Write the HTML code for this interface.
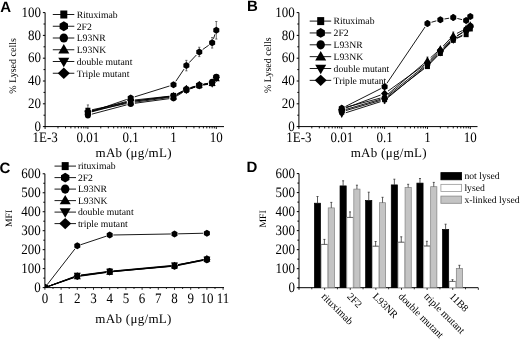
<!DOCTYPE html>
<html><head><meta charset="utf-8"><style>
html,body{margin:0;padding:0;background:#fff;width:520px;height:340px;overflow:hidden}
svg{display:block;filter:blur(0.3px)}
text{fill:#000;text-rendering:geometricPrecision}
</style></head><body>
<svg width="520" height="340" viewBox="0 0 520 340">
<rect width="520" height="340" fill="#fff"/>
<line x1="45.1" y1="12.6" x2="45.1" y2="127.1" stroke="#000" stroke-width="1" />
<line x1="44.6" y1="126.6" x2="224" y2="126.6" stroke="#000" stroke-width="1" />
<line x1="42.9" y1="126.6" x2="45.1" y2="126.6" stroke="#000" stroke-width="1" />
<text x="0" y="0" font-size="13" text-anchor="end" font-family='"Liberation Serif", serif' transform="translate(41 130.8) scale(1 1.11)">0</text>
<line x1="43.5" y1="115.2" x2="45.1" y2="115.2" stroke="#000" stroke-width="1" />
<line x1="42.9" y1="103.8" x2="45.1" y2="103.8" stroke="#000" stroke-width="1" />
<text x="0" y="0" font-size="13" text-anchor="end" font-family='"Liberation Serif", serif' transform="translate(41 108) scale(1 1.11)">20</text>
<line x1="43.5" y1="92.4" x2="45.1" y2="92.4" stroke="#000" stroke-width="1" />
<line x1="42.9" y1="81" x2="45.1" y2="81" stroke="#000" stroke-width="1" />
<text x="0" y="0" font-size="13" text-anchor="end" font-family='"Liberation Serif", serif' transform="translate(41 85.2) scale(1 1.11)">40</text>
<line x1="43.5" y1="69.6" x2="45.1" y2="69.6" stroke="#000" stroke-width="1" />
<line x1="42.9" y1="58.2" x2="45.1" y2="58.2" stroke="#000" stroke-width="1" />
<text x="0" y="0" font-size="13" text-anchor="end" font-family='"Liberation Serif", serif' transform="translate(41 62.4) scale(1 1.11)">60</text>
<line x1="43.5" y1="46.8" x2="45.1" y2="46.8" stroke="#000" stroke-width="1" />
<line x1="42.9" y1="35.4" x2="45.1" y2="35.4" stroke="#000" stroke-width="1" />
<text x="0" y="0" font-size="13" text-anchor="end" font-family='"Liberation Serif", serif' transform="translate(41 39.6) scale(1 1.11)">80</text>
<line x1="43.5" y1="24" x2="45.1" y2="24" stroke="#000" stroke-width="1" />
<line x1="42.9" y1="12.6" x2="45.1" y2="12.6" stroke="#000" stroke-width="1" />
<text x="0" y="0" font-size="13" text-anchor="end" font-family='"Liberation Serif", serif' transform="translate(41 16.8) scale(1 1.11)">100</text>
<line x1="45.1" y1="126.6" x2="45.1" y2="129" stroke="#000" stroke-width="0.9" />
<line x1="57.98" y1="126.6" x2="57.98" y2="128.4" stroke="#000" stroke-width="0.9" />
<line x1="65.52" y1="126.6" x2="65.52" y2="128.4" stroke="#000" stroke-width="0.9" />
<line x1="70.87" y1="126.6" x2="70.87" y2="128.4" stroke="#000" stroke-width="0.9" />
<line x1="75.02" y1="126.6" x2="75.02" y2="128.4" stroke="#000" stroke-width="0.9" />
<line x1="78.4" y1="126.6" x2="78.4" y2="128.4" stroke="#000" stroke-width="0.9" />
<line x1="81.27" y1="126.6" x2="81.27" y2="128.4" stroke="#000" stroke-width="0.9" />
<line x1="83.75" y1="126.6" x2="83.75" y2="128.4" stroke="#000" stroke-width="0.9" />
<line x1="85.94" y1="126.6" x2="85.94" y2="128.4" stroke="#000" stroke-width="0.9" />
<line x1="87.9" y1="126.6" x2="87.9" y2="129" stroke="#000" stroke-width="0.9" />
<line x1="100.78" y1="126.6" x2="100.78" y2="128.4" stroke="#000" stroke-width="0.9" />
<line x1="108.32" y1="126.6" x2="108.32" y2="128.4" stroke="#000" stroke-width="0.9" />
<line x1="113.67" y1="126.6" x2="113.67" y2="128.4" stroke="#000" stroke-width="0.9" />
<line x1="117.82" y1="126.6" x2="117.82" y2="128.4" stroke="#000" stroke-width="0.9" />
<line x1="121.2" y1="126.6" x2="121.2" y2="128.4" stroke="#000" stroke-width="0.9" />
<line x1="124.07" y1="126.6" x2="124.07" y2="128.4" stroke="#000" stroke-width="0.9" />
<line x1="126.55" y1="126.6" x2="126.55" y2="128.4" stroke="#000" stroke-width="0.9" />
<line x1="128.74" y1="126.6" x2="128.74" y2="128.4" stroke="#000" stroke-width="0.9" />
<line x1="130.7" y1="126.6" x2="130.7" y2="129" stroke="#000" stroke-width="0.9" />
<line x1="143.58" y1="126.6" x2="143.58" y2="128.4" stroke="#000" stroke-width="0.9" />
<line x1="151.12" y1="126.6" x2="151.12" y2="128.4" stroke="#000" stroke-width="0.9" />
<line x1="156.47" y1="126.6" x2="156.47" y2="128.4" stroke="#000" stroke-width="0.9" />
<line x1="160.62" y1="126.6" x2="160.62" y2="128.4" stroke="#000" stroke-width="0.9" />
<line x1="164" y1="126.6" x2="164" y2="128.4" stroke="#000" stroke-width="0.9" />
<line x1="166.87" y1="126.6" x2="166.87" y2="128.4" stroke="#000" stroke-width="0.9" />
<line x1="169.35" y1="126.6" x2="169.35" y2="128.4" stroke="#000" stroke-width="0.9" />
<line x1="171.54" y1="126.6" x2="171.54" y2="128.4" stroke="#000" stroke-width="0.9" />
<line x1="173.5" y1="126.6" x2="173.5" y2="129" stroke="#000" stroke-width="0.9" />
<line x1="186.38" y1="126.6" x2="186.38" y2="128.4" stroke="#000" stroke-width="0.9" />
<line x1="193.92" y1="126.6" x2="193.92" y2="128.4" stroke="#000" stroke-width="0.9" />
<line x1="199.27" y1="126.6" x2="199.27" y2="128.4" stroke="#000" stroke-width="0.9" />
<line x1="203.42" y1="126.6" x2="203.42" y2="128.4" stroke="#000" stroke-width="0.9" />
<line x1="206.8" y1="126.6" x2="206.8" y2="128.4" stroke="#000" stroke-width="0.9" />
<line x1="209.67" y1="126.6" x2="209.67" y2="128.4" stroke="#000" stroke-width="0.9" />
<line x1="212.15" y1="126.6" x2="212.15" y2="128.4" stroke="#000" stroke-width="0.9" />
<line x1="214.34" y1="126.6" x2="214.34" y2="128.4" stroke="#000" stroke-width="0.9" />
<line x1="216.3" y1="126.6" x2="216.3" y2="129" stroke="#000" stroke-width="0.9" />
<text x="0" y="0" font-size="13" text-anchor="middle" font-family='"Liberation Serif", serif' transform="translate(45.1 141.6) scale(1 1.11)">1E-3</text>
<text x="0" y="0" font-size="13" text-anchor="middle" font-family='"Liberation Serif", serif' transform="translate(87.9 141.6) scale(1 1.11)">0.01</text>
<text x="0" y="0" font-size="13" text-anchor="middle" font-family='"Liberation Serif", serif' transform="translate(130.7 141.6) scale(1 1.11)">0.1</text>
<text x="0" y="0" font-size="13" text-anchor="middle" font-family='"Liberation Serif", serif' transform="translate(173.5 141.6) scale(1 1.11)">1</text>
<text x="0" y="0" font-size="13" text-anchor="middle" font-family='"Liberation Serif", serif' transform="translate(216.3 141.6) scale(1 1.11)">10</text>
<text x="133.7" y="157.4" font-size="13" text-anchor="middle" font-family='"Liberation Serif", serif' font-weight="normal" letter-spacing="0.3">mAb (&#956;g/mL)</text>
<text x="13.5" y="65.9" font-size="10" text-anchor="middle" font-family='"Liberation Serif", serif' font-weight="normal" transform="rotate(-90 13.5 65.9)" dominant-baseline="central">% Lysed cells</text>
<text x="0.3" y="11.6" font-size="15" text-anchor="start" font-family='"Liberation Sans", sans-serif' font-weight="bold" >A</text>
<line x1="92.01" y1="109.76" x2="126.59" y2="102.4" stroke="#000" stroke-width="0.9" />
<line x1="134.86" y1="100.97" x2="169.34" y2="96.37" stroke="#000" stroke-width="0.9" />
<line x1="177.28" y1="93.98" x2="182.61" y2="91.39" stroke="#000" stroke-width="0.9" />
<line x1="190.4" y1="88.31" x2="195.26" y2="86.8" stroke="#000" stroke-width="0.9" />
<line x1="203.4" y1="84.83" x2="208.02" y2="84.01" stroke="#000" stroke-width="0.9" />
<line x1="91.96" y1="114.12" x2="126.64" y2="104.88" stroke="#000" stroke-width="0.9" />
<line x1="134.86" y1="103.25" x2="169.34" y2="98.65" stroke="#000" stroke-width="0.9" />
<line x1="177.07" y1="95.89" x2="182.81" y2="92.33" stroke="#000" stroke-width="0.9" />
<line x1="190.34" y1="88.72" x2="195.31" y2="86.96" stroke="#000" stroke-width="0.9" />
<line x1="203.33" y1="84.48" x2="208.09" y2="83.22" stroke="#000" stroke-width="0.9" />
<line x1="92.01" y1="110.9" x2="126.59" y2="103.54" stroke="#000" stroke-width="0.9" />
<line x1="134.86" y1="102.11" x2="169.34" y2="97.51" stroke="#000" stroke-width="0.9" />
<line x1="177.07" y1="94.75" x2="182.81" y2="91.19" stroke="#000" stroke-width="0.9" />
<line x1="190.4" y1="87.74" x2="195.26" y2="86.23" stroke="#000" stroke-width="0.9" />
<line x1="203.43" y1="84.44" x2="207.99" y2="83.83" stroke="#000" stroke-width="0.9" />
<line x1="91.96" y1="111.84" x2="126.64" y2="102.6" stroke="#000" stroke-width="0.9" />
<line x1="134.87" y1="101.02" x2="169.33" y2="96.89" stroke="#000" stroke-width="0.9" />
<line x1="177.28" y1="94.55" x2="182.61" y2="91.96" stroke="#000" stroke-width="0.9" />
<line x1="190.34" y1="88.72" x2="195.31" y2="86.96" stroke="#000" stroke-width="0.9" />
<line x1="203.43" y1="85.01" x2="207.99" y2="84.4" stroke="#000" stroke-width="0.9" />
<line x1="91.96" y1="110.7" x2="126.64" y2="101.46" stroke="#000" stroke-width="0.9" />
<line x1="134.88" y1="99.94" x2="169.32" y2="96.26" stroke="#000" stroke-width="0.9" />
<line x1="177.21" y1="93.85" x2="182.67" y2="90.95" stroke="#000" stroke-width="0.9" />
<line x1="190.4" y1="87.74" x2="195.26" y2="86.23" stroke="#000" stroke-width="0.9" />
<line x1="203.4" y1="84.26" x2="208.02" y2="83.44" stroke="#000" stroke-width="0.9" />
<line x1="91.87" y1="111.55" x2="126.73" y2="99.47" stroke="#000" stroke-width="0.9" />
<line x1="134.71" y1="96.85" x2="169.49" y2="86.01" stroke="#000" stroke-width="0.9" />
<line x1="175.84" y1="81.28" x2="184.04" y2="69.09" stroke="#000" stroke-width="0.9" />
<line x1="189.26" y1="62.55" x2="196.39" y2="54.99" stroke="#000" stroke-width="0.9" />
<line x1="202.7" y1="49.5" x2="208.72" y2="45.24" stroke="#000" stroke-width="0.9" />
<line x1="213.47" y1="38.82" x2="214.98" y2="34.26" stroke="#000" stroke-width="0.9" />
<line x1="87.9" y1="104.94" x2="87.9" y2="116.34" stroke="#333" stroke-width="0.7" />
<line x1="86.8" y1="104.94" x2="89" y2="104.94" stroke="#333" stroke-width="0.7" />
<line x1="86.8" y1="116.34" x2="89" y2="116.34" stroke="#333" stroke-width="0.7" />
<rect x="85.4" y="107.74" width="5" height="5.8" fill="#000"/>
<rect x="128.2" y="98.62" width="5" height="5.8" fill="#000"/>
<rect x="171" y="92.92" width="5" height="5.8" fill="#000"/>
<rect x="183.88" y="86.65" width="5" height="5.8" fill="#000"/>
<rect x="196.77" y="82.66" width="5" height="5.8" fill="#000"/>
<rect x="209.65" y="80.38" width="5" height="5.8" fill="#000"/>
<rect x="213.8" y="74.68" width="5" height="5.8" fill="#000"/>
<ellipse cx="87.9" cy="115.2" rx="3" ry="3.3" fill="#000"/>
<ellipse cx="130.7" cy="103.8" rx="3" ry="3.3" fill="#000"/>
<ellipse cx="173.5" cy="98.1" rx="3" ry="3.3" fill="#000"/>
<ellipse cx="186.38" cy="90.12" rx="3" ry="3.3" fill="#000"/>
<ellipse cx="199.27" cy="85.56" rx="3" ry="3.3" fill="#000"/>
<ellipse cx="212.15" cy="82.14" rx="3" ry="3.3" fill="#000"/>
<ellipse cx="216.3" cy="77.01" rx="3" ry="3.3" fill="#000"/>
<polygon points="87.9,107.82 91.4,114.42 84.4,114.42" fill="#000"/>
<polygon points="130.7,98.7 134.2,105.3 127.2,105.3" fill="#000"/>
<polygon points="173.5,93 177,99.6 170,99.6" fill="#000"/>
<polygon points="186.38,85.02 189.88,91.62 182.88,91.62" fill="#000"/>
<polygon points="199.27,81.03 202.77,87.63 195.77,87.63" fill="#000"/>
<polygon points="212.15,79.32 215.65,85.92 208.65,85.92" fill="#000"/>
<polygon points="216.3,74.76 219.8,81.36 212.8,81.36" fill="#000"/>
<polygon points="87.9,116.88 91.4,110.28 84.4,110.28" fill="#000"/>
<polygon points="130.7,105.48 134.2,98.88 127.2,98.88" fill="#000"/>
<polygon points="173.5,100.35 177,93.75 170,93.75" fill="#000"/>
<polygon points="186.38,94.08 189.88,87.48 182.88,87.48" fill="#000"/>
<polygon points="199.27,89.52 202.77,82.92 195.77,82.92" fill="#000"/>
<polygon points="212.15,87.81 215.65,81.21 208.65,81.21" fill="#000"/>
<polygon points="216.3,82.11 219.8,75.51 212.8,75.51" fill="#000"/>
<polygon points="87.9,107.88 91.5,111.78 87.9,115.68 84.3,111.78" fill="#000"/>
<polygon points="130.7,96.48 134.3,100.38 130.7,104.28 127.1,100.38" fill="#000"/>
<polygon points="173.5,91.92 177.1,95.82 173.5,99.72 169.9,95.82" fill="#000"/>
<polygon points="186.38,85.08 189.98,88.98 186.38,92.88 182.78,88.98" fill="#000"/>
<polygon points="199.27,81.09 202.87,84.99 199.27,88.89 195.67,84.99" fill="#000"/>
<polygon points="212.15,78.81 215.75,82.71 212.15,86.61 208.55,82.71" fill="#000"/>
<polygon points="216.3,73.68 219.9,77.58 216.3,81.48 212.7,77.58" fill="#000"/>
<line x1="186.38" y1="60.37" x2="186.38" y2="70.85" stroke="#333" stroke-width="0.7" />
<line x1="185.28" y1="60.37" x2="187.48" y2="60.37" stroke="#333" stroke-width="0.7" />
<line x1="185.28" y1="70.85" x2="187.48" y2="70.85" stroke="#333" stroke-width="0.7" />
<line x1="199.27" y1="47.26" x2="199.27" y2="56.6" stroke="#333" stroke-width="0.7" />
<line x1="198.17" y1="47.26" x2="200.37" y2="47.26" stroke="#333" stroke-width="0.7" />
<line x1="198.17" y1="56.6" x2="200.37" y2="56.6" stroke="#333" stroke-width="0.7" />
<line x1="212.15" y1="37.57" x2="212.15" y2="48.05" stroke="#333" stroke-width="0.7" />
<line x1="211.05" y1="37.57" x2="213.25" y2="37.57" stroke="#333" stroke-width="0.7" />
<line x1="211.05" y1="48.05" x2="213.25" y2="48.05" stroke="#333" stroke-width="0.7" />
<line x1="216.3" y1="21.49" x2="216.3" y2="39.05" stroke="#333" stroke-width="0.7" />
<line x1="215.2" y1="21.49" x2="217.4" y2="21.49" stroke="#333" stroke-width="0.7" />
<line x1="215.2" y1="39.05" x2="217.4" y2="39.05" stroke="#333" stroke-width="0.7" />
<polygon points="87.9,109.42 90.9,111.17 90.9,114.67 87.9,116.42 84.9,114.67 84.9,111.17" fill="#000"/>
<polygon points="130.7,94.6 133.7,96.35 133.7,99.85 130.7,101.6 127.7,99.85 127.7,96.35" fill="#000"/>
<polygon points="173.5,81.26 176.5,83.01 176.5,86.51 173.5,88.26 170.5,86.51 170.5,83.01" fill="#000"/>
<polygon points="186.38,62.11 189.38,63.86 189.38,67.36 186.38,69.11 183.38,67.36 183.38,63.86" fill="#000"/>
<polygon points="199.27,48.43 202.27,50.18 202.27,53.68 199.27,55.43 196.27,53.68 196.27,50.18" fill="#000"/>
<polygon points="212.15,39.31 215.15,41.06 215.15,44.56 212.15,46.31 209.15,44.56 209.15,41.06" fill="#000"/>
<polygon points="216.3,26.77 219.3,28.52 219.3,32.02 216.3,33.77 213.3,32.02 213.3,28.52" fill="#000"/>
<line x1="52.8" y1="14.5" x2="74.3" y2="14.5" stroke="#000" stroke-width="0.9" />
<rect x="60.3" y="10.5" width="7" height="8" fill="#000"/>
<text x="76.7" y="17.8" font-size="9.7" text-anchor="start" font-family='"Liberation Serif", serif' font-weight="normal" >Rituximab</text>
<line x1="52.8" y1="26.25" x2="74.3" y2="26.25" stroke="#000" stroke-width="0.9" />
<polygon points="63.8,21.35 68,23.8 68,28.7 63.8,31.15 59.6,28.7 59.6,23.8" fill="#000"/>
<text x="76.7" y="29.55" font-size="9.7" text-anchor="start" font-family='"Liberation Serif", serif' font-weight="normal" >2F2</text>
<line x1="52.8" y1="38" x2="74.3" y2="38" stroke="#000" stroke-width="0.9" />
<ellipse cx="63.8" cy="38" rx="4.2" ry="4.6" fill="#000"/>
<text x="76.7" y="41.3" font-size="9.7" text-anchor="start" font-family='"Liberation Serif", serif' font-weight="normal" >L93NR</text>
<line x1="52.8" y1="49.75" x2="74.3" y2="49.75" stroke="#000" stroke-width="0.9" />
<polygon points="63.8,44.11 69.3,53.51 58.3,53.51" fill="#000"/>
<text x="76.7" y="53.05" font-size="9.7" text-anchor="start" font-family='"Liberation Serif", serif' font-weight="normal" >L93NK</text>
<line x1="52.8" y1="61.5" x2="74.3" y2="61.5" stroke="#000" stroke-width="0.9" />
<polygon points="63.8,67.14 69.3,57.74 58.3,57.74" fill="#000"/>
<text x="76.7" y="64.8" font-size="9.7" text-anchor="start" font-family='"Liberation Serif", serif' font-weight="normal" >double mutant</text>
<line x1="52.8" y1="73.25" x2="74.3" y2="73.25" stroke="#000" stroke-width="0.9" />
<polygon points="63.8,67.55 69.8,73.25 63.8,78.95 57.8,73.25" fill="#000"/>
<text x="76.7" y="76.55" font-size="9.7" text-anchor="start" font-family='"Liberation Serif", serif' font-weight="normal" >Triple mutant</text>
<line x1="298.9" y1="12.6" x2="298.9" y2="127.1" stroke="#000" stroke-width="1" />
<line x1="298.4" y1="126.6" x2="477.5" y2="126.6" stroke="#000" stroke-width="1" />
<line x1="296.7" y1="126.6" x2="298.9" y2="126.6" stroke="#000" stroke-width="1" />
<text x="0" y="0" font-size="13" text-anchor="end" font-family='"Liberation Serif", serif' transform="translate(294.8 130.8) scale(1 1.11)">0</text>
<line x1="297.3" y1="115.2" x2="298.9" y2="115.2" stroke="#000" stroke-width="1" />
<line x1="296.7" y1="103.8" x2="298.9" y2="103.8" stroke="#000" stroke-width="1" />
<text x="0" y="0" font-size="13" text-anchor="end" font-family='"Liberation Serif", serif' transform="translate(294.8 108) scale(1 1.11)">20</text>
<line x1="297.3" y1="92.4" x2="298.9" y2="92.4" stroke="#000" stroke-width="1" />
<line x1="296.7" y1="81" x2="298.9" y2="81" stroke="#000" stroke-width="1" />
<text x="0" y="0" font-size="13" text-anchor="end" font-family='"Liberation Serif", serif' transform="translate(294.8 85.2) scale(1 1.11)">40</text>
<line x1="297.3" y1="69.6" x2="298.9" y2="69.6" stroke="#000" stroke-width="1" />
<line x1="296.7" y1="58.2" x2="298.9" y2="58.2" stroke="#000" stroke-width="1" />
<text x="0" y="0" font-size="13" text-anchor="end" font-family='"Liberation Serif", serif' transform="translate(294.8 62.4) scale(1 1.11)">60</text>
<line x1="297.3" y1="46.8" x2="298.9" y2="46.8" stroke="#000" stroke-width="1" />
<line x1="296.7" y1="35.4" x2="298.9" y2="35.4" stroke="#000" stroke-width="1" />
<text x="0" y="0" font-size="13" text-anchor="end" font-family='"Liberation Serif", serif' transform="translate(294.8 39.6) scale(1 1.11)">80</text>
<line x1="297.3" y1="24" x2="298.9" y2="24" stroke="#000" stroke-width="1" />
<line x1="296.7" y1="12.6" x2="298.9" y2="12.6" stroke="#000" stroke-width="1" />
<text x="0" y="0" font-size="13" text-anchor="end" font-family='"Liberation Serif", serif' transform="translate(294.8 16.8) scale(1 1.11)">100</text>
<line x1="298.9" y1="126.6" x2="298.9" y2="129" stroke="#000" stroke-width="0.9" />
<line x1="311.8" y1="126.6" x2="311.8" y2="128.4" stroke="#000" stroke-width="0.9" />
<line x1="319.34" y1="126.6" x2="319.34" y2="128.4" stroke="#000" stroke-width="0.9" />
<line x1="324.7" y1="126.6" x2="324.7" y2="128.4" stroke="#000" stroke-width="0.9" />
<line x1="328.85" y1="126.6" x2="328.85" y2="128.4" stroke="#000" stroke-width="0.9" />
<line x1="332.24" y1="126.6" x2="332.24" y2="128.4" stroke="#000" stroke-width="0.9" />
<line x1="335.11" y1="126.6" x2="335.11" y2="128.4" stroke="#000" stroke-width="0.9" />
<line x1="337.6" y1="126.6" x2="337.6" y2="128.4" stroke="#000" stroke-width="0.9" />
<line x1="339.79" y1="126.6" x2="339.79" y2="128.4" stroke="#000" stroke-width="0.9" />
<line x1="341.75" y1="126.6" x2="341.75" y2="129" stroke="#000" stroke-width="0.9" />
<line x1="354.65" y1="126.6" x2="354.65" y2="128.4" stroke="#000" stroke-width="0.9" />
<line x1="362.19" y1="126.6" x2="362.19" y2="128.4" stroke="#000" stroke-width="0.9" />
<line x1="367.55" y1="126.6" x2="367.55" y2="128.4" stroke="#000" stroke-width="0.9" />
<line x1="371.7" y1="126.6" x2="371.7" y2="128.4" stroke="#000" stroke-width="0.9" />
<line x1="375.09" y1="126.6" x2="375.09" y2="128.4" stroke="#000" stroke-width="0.9" />
<line x1="377.96" y1="126.6" x2="377.96" y2="128.4" stroke="#000" stroke-width="0.9" />
<line x1="380.45" y1="126.6" x2="380.45" y2="128.4" stroke="#000" stroke-width="0.9" />
<line x1="382.64" y1="126.6" x2="382.64" y2="128.4" stroke="#000" stroke-width="0.9" />
<line x1="384.6" y1="126.6" x2="384.6" y2="129" stroke="#000" stroke-width="0.9" />
<line x1="397.5" y1="126.6" x2="397.5" y2="128.4" stroke="#000" stroke-width="0.9" />
<line x1="405.04" y1="126.6" x2="405.04" y2="128.4" stroke="#000" stroke-width="0.9" />
<line x1="410.4" y1="126.6" x2="410.4" y2="128.4" stroke="#000" stroke-width="0.9" />
<line x1="414.55" y1="126.6" x2="414.55" y2="128.4" stroke="#000" stroke-width="0.9" />
<line x1="417.94" y1="126.6" x2="417.94" y2="128.4" stroke="#000" stroke-width="0.9" />
<line x1="420.81" y1="126.6" x2="420.81" y2="128.4" stroke="#000" stroke-width="0.9" />
<line x1="423.3" y1="126.6" x2="423.3" y2="128.4" stroke="#000" stroke-width="0.9" />
<line x1="425.49" y1="126.6" x2="425.49" y2="128.4" stroke="#000" stroke-width="0.9" />
<line x1="427.45" y1="126.6" x2="427.45" y2="129" stroke="#000" stroke-width="0.9" />
<line x1="440.35" y1="126.6" x2="440.35" y2="128.4" stroke="#000" stroke-width="0.9" />
<line x1="447.89" y1="126.6" x2="447.89" y2="128.4" stroke="#000" stroke-width="0.9" />
<line x1="453.25" y1="126.6" x2="453.25" y2="128.4" stroke="#000" stroke-width="0.9" />
<line x1="457.4" y1="126.6" x2="457.4" y2="128.4" stroke="#000" stroke-width="0.9" />
<line x1="460.79" y1="126.6" x2="460.79" y2="128.4" stroke="#000" stroke-width="0.9" />
<line x1="463.66" y1="126.6" x2="463.66" y2="128.4" stroke="#000" stroke-width="0.9" />
<line x1="466.15" y1="126.6" x2="466.15" y2="128.4" stroke="#000" stroke-width="0.9" />
<line x1="468.34" y1="126.6" x2="468.34" y2="128.4" stroke="#000" stroke-width="0.9" />
<line x1="470.3" y1="126.6" x2="470.3" y2="129" stroke="#000" stroke-width="0.9" />
<text x="0" y="0" font-size="13" text-anchor="middle" font-family='"Liberation Serif", serif' transform="translate(298.9 141.6) scale(1 1.11)">1E-3</text>
<text x="0" y="0" font-size="13" text-anchor="middle" font-family='"Liberation Serif", serif' transform="translate(341.75 141.6) scale(1 1.11)">0.01</text>
<text x="0" y="0" font-size="13" text-anchor="middle" font-family='"Liberation Serif", serif' transform="translate(384.6 141.6) scale(1 1.11)">0.1</text>
<text x="0" y="0" font-size="13" text-anchor="middle" font-family='"Liberation Serif", serif' transform="translate(427.45 141.6) scale(1 1.11)">1</text>
<text x="0" y="0" font-size="13" text-anchor="middle" font-family='"Liberation Serif", serif' transform="translate(470.3 141.6) scale(1 1.11)">10</text>
<text x="388.8" y="157.4" font-size="13" text-anchor="middle" font-family='"Liberation Serif", serif' font-weight="normal" letter-spacing="0.3">mAb (&#956;g/mL)</text>
<text x="268.2" y="65.2" font-size="10" text-anchor="middle" font-family='"Liberation Serif", serif' font-weight="normal" transform="rotate(-90 268.2 65.2)" dominant-baseline="central">% Lysed cells</text>
<text x="247.1" y="11.3" font-size="15" text-anchor="start" font-family='"Liberation Sans", sans-serif' font-weight="bold" >B</text>
<line x1="345.78" y1="110.6" x2="380.57" y2="100.42" stroke="#000" stroke-width="0.9" />
<line x1="387.93" y1="96.67" x2="424.12" y2="68.75" stroke="#000" stroke-width="0.9" />
<line x1="430.4" y1="63.19" x2="437.4" y2="56.06" stroke="#000" stroke-width="0.9" />
<line x1="443.29" y1="50.08" x2="450.3" y2="42.95" stroke="#000" stroke-width="0.9" />
<line x1="457.09" y1="38.26" x2="462.31" y2="35.96" stroke="#000" stroke-width="0.9" />
<line x1="345.78" y1="109.46" x2="380.57" y2="99.28" stroke="#000" stroke-width="0.9" />
<line x1="387.88" y1="95.48" x2="424.17" y2="66.52" stroke="#000" stroke-width="0.9" />
<line x1="430.46" y1="60.97" x2="437.34" y2="54.29" stroke="#000" stroke-width="0.9" />
<line x1="443.36" y1="48.43" x2="450.24" y2="41.75" stroke="#000" stroke-width="0.9" />
<line x1="456.68" y1="36.4" x2="462.72" y2="32.12" stroke="#000" stroke-width="0.9" />
<line x1="345.81" y1="107.28" x2="380.54" y2="98.04" stroke="#000" stroke-width="0.9" />
<line x1="387.8" y1="94.24" x2="424.25" y2="63.2" stroke="#000" stroke-width="0.9" />
<line x1="430.6" y1="57.7" x2="437.2" y2="51.86" stroke="#000" stroke-width="0.9" />
<line x1="443.23" y1="46.02" x2="450.37" y2="38.46" stroke="#000" stroke-width="0.9" />
<line x1="456.96" y1="33.43" x2="462.44" y2="30.53" stroke="#000" stroke-width="0.9" />
<line x1="345.75" y1="112.78" x2="380.6" y2="101.66" stroke="#000" stroke-width="0.9" />
<line x1="387.84" y1="97.71" x2="424.21" y2="67.71" stroke="#000" stroke-width="0.9" />
<line x1="430.46" y1="62.11" x2="437.34" y2="55.43" stroke="#000" stroke-width="0.9" />
<line x1="443.36" y1="49.57" x2="450.24" y2="42.89" stroke="#000" stroke-width="0.9" />
<line x1="456.96" y1="37.99" x2="462.44" y2="35.09" stroke="#000" stroke-width="0.9" />
<line x1="345.69" y1="108.03" x2="380.66" y2="95.01" stroke="#000" stroke-width="0.9" />
<line x1="388.01" y1="91.09" x2="424.04" y2="65.21" stroke="#000" stroke-width="0.9" />
<line x1="430.46" y1="59.83" x2="437.34" y2="53.15" stroke="#000" stroke-width="0.9" />
<line x1="443.36" y1="47.29" x2="450.24" y2="40.61" stroke="#000" stroke-width="0.9" />
<line x1="456.96" y1="35.71" x2="462.44" y2="32.81" stroke="#000" stroke-width="0.9" />
<line x1="345.5" y1="106.47" x2="380.85" y2="88.59" stroke="#000" stroke-width="0.9" />
<line x1="386.96" y1="83.22" x2="425.09" y2="26.91" stroke="#000" stroke-width="0.9" />
<line x1="431.48" y1="22.25" x2="436.32" y2="20.84" stroke="#000" stroke-width="0.9" />
<line x1="444.49" y1="18.97" x2="449.11" y2="18.2" stroke="#000" stroke-width="0.9" />
<line x1="457.33" y1="18.48" x2="462.06" y2="19.61" stroke="#000" stroke-width="0.9" />
<line x1="384.6" y1="95.25" x2="384.6" y2="103.23" stroke="#333" stroke-width="0.7" />
<line x1="383.5" y1="95.25" x2="385.7" y2="95.25" stroke="#333" stroke-width="0.7" />
<line x1="383.5" y1="103.23" x2="385.7" y2="103.23" stroke="#333" stroke-width="0.7" />
<rect x="339.25" y="108.88" width="5" height="5.8" fill="#000"/>
<rect x="382.1" y="96.34" width="5" height="5.8" fill="#000"/>
<rect x="424.95" y="63.28" width="5" height="5.8" fill="#000"/>
<rect x="437.85" y="50.17" width="5" height="5.8" fill="#000"/>
<rect x="450.75" y="37.06" width="5" height="5.8" fill="#000"/>
<rect x="463.65" y="31.36" width="5" height="5.8" fill="#000"/>
<rect x="467.8" y="25.66" width="5" height="5.8" fill="#000"/>
<ellipse cx="341.75" cy="110.64" rx="3" ry="3.3" fill="#000"/>
<ellipse cx="384.6" cy="98.1" rx="3" ry="3.3" fill="#000"/>
<ellipse cx="427.45" cy="63.9" rx="3" ry="3.3" fill="#000"/>
<ellipse cx="440.35" cy="51.36" rx="3" ry="3.3" fill="#000"/>
<ellipse cx="453.25" cy="38.82" rx="3" ry="3.3" fill="#000"/>
<ellipse cx="466.15" cy="29.7" rx="3" ry="3.3" fill="#000"/>
<ellipse cx="470.3" cy="26.28" rx="3" ry="3.3" fill="#000"/>
<line x1="341.75" y1="106.08" x2="341.75" y2="110.64" stroke="#333" stroke-width="0.7" />
<line x1="340.65" y1="106.08" x2="342.85" y2="106.08" stroke="#333" stroke-width="0.7" />
<line x1="340.65" y1="110.64" x2="342.85" y2="110.64" stroke="#333" stroke-width="0.7" />
<line x1="427.45" y1="57.06" x2="427.45" y2="63.9" stroke="#333" stroke-width="0.7" />
<line x1="426.35" y1="57.06" x2="428.55" y2="57.06" stroke="#333" stroke-width="0.7" />
<line x1="426.35" y1="63.9" x2="428.55" y2="63.9" stroke="#333" stroke-width="0.7" />
<line x1="453.25" y1="31.98" x2="453.25" y2="38.82" stroke="#333" stroke-width="0.7" />
<line x1="452.15" y1="31.98" x2="454.35" y2="31.98" stroke="#333" stroke-width="0.7" />
<line x1="452.15" y1="38.82" x2="454.35" y2="38.82" stroke="#333" stroke-width="0.7" />
<polygon points="341.75,104.4 345.25,111 338.25,111" fill="#000"/>
<polygon points="384.6,93 388.1,99.6 381.1,99.6" fill="#000"/>
<polygon points="427.45,56.52 430.95,63.12 423.95,63.12" fill="#000"/>
<polygon points="440.35,45.12 443.85,51.72 436.85,51.72" fill="#000"/>
<polygon points="453.25,31.44 456.75,38.04 449.75,38.04" fill="#000"/>
<polygon points="466.15,24.6 469.65,31.2 462.65,31.2" fill="#000"/>
<polygon points="470.3,21.18 473.8,27.78 466.8,27.78" fill="#000"/>
<polygon points="341.75,118.02 345.25,111.42 338.25,111.42" fill="#000"/>
<polygon points="384.6,104.34 388.1,97.74 381.1,97.74" fill="#000"/>
<polygon points="427.45,69 430.95,62.4 423.95,62.4" fill="#000"/>
<polygon points="440.35,56.46 443.85,49.86 436.85,49.86" fill="#000"/>
<polygon points="453.25,43.92 456.75,37.32 449.75,37.32" fill="#000"/>
<polygon points="466.15,37.08 469.65,30.48 462.65,30.48" fill="#000"/>
<polygon points="470.3,31.38 473.8,24.78 466.8,24.78" fill="#000"/>
<polygon points="341.75,105.6 345.35,109.5 341.75,113.4 338.15,109.5" fill="#000"/>
<polygon points="384.6,89.64 388.2,93.54 384.6,97.44 381,93.54" fill="#000"/>
<polygon points="427.45,58.86 431.05,62.76 427.45,66.66 423.85,62.76" fill="#000"/>
<polygon points="440.35,46.32 443.95,50.22 440.35,54.12 436.75,50.22" fill="#000"/>
<polygon points="453.25,33.78 456.85,37.68 453.25,41.58 449.65,37.68" fill="#000"/>
<polygon points="466.15,26.94 469.75,30.84 466.15,34.74 462.55,30.84" fill="#000"/>
<polygon points="470.3,22.38 473.9,26.28 470.3,30.18 466.7,26.28" fill="#000"/>
<line x1="427.45" y1="20.58" x2="427.45" y2="26.28" stroke="#333" stroke-width="0.7" />
<line x1="426.35" y1="20.58" x2="428.55" y2="20.58" stroke="#333" stroke-width="0.7" />
<line x1="426.35" y1="26.28" x2="428.55" y2="26.28" stroke="#333" stroke-width="0.7" />
<line x1="440.35" y1="17.39" x2="440.35" y2="21.95" stroke="#333" stroke-width="0.7" />
<line x1="439.25" y1="17.39" x2="441.45" y2="17.39" stroke="#333" stroke-width="0.7" />
<line x1="439.25" y1="21.95" x2="441.45" y2="21.95" stroke="#333" stroke-width="0.7" />
<line x1="453.25" y1="14.65" x2="453.25" y2="20.35" stroke="#333" stroke-width="0.7" />
<line x1="452.15" y1="14.65" x2="454.35" y2="14.65" stroke="#333" stroke-width="0.7" />
<line x1="452.15" y1="20.35" x2="454.35" y2="20.35" stroke="#333" stroke-width="0.7" />
<line x1="466.15" y1="18.3" x2="466.15" y2="22.86" stroke="#333" stroke-width="0.7" />
<line x1="465.05" y1="18.3" x2="467.25" y2="18.3" stroke="#333" stroke-width="0.7" />
<line x1="465.05" y1="22.86" x2="467.25" y2="22.86" stroke="#333" stroke-width="0.7" />
<line x1="470.3" y1="14.31" x2="470.3" y2="18.87" stroke="#333" stroke-width="0.7" />
<line x1="469.2" y1="14.31" x2="471.4" y2="14.31" stroke="#333" stroke-width="0.7" />
<line x1="469.2" y1="18.87" x2="471.4" y2="18.87" stroke="#333" stroke-width="0.7" />
<polygon points="341.75,104.86 344.75,106.61 344.75,110.11 341.75,111.86 338.75,110.11 338.75,106.61" fill="#000"/>
<polygon points="384.6,83.2 387.6,84.95 387.6,88.45 384.6,90.2 381.6,88.45 381.6,84.95" fill="#000"/>
<polygon points="427.45,19.93 430.45,21.68 430.45,25.18 427.45,26.93 424.45,25.18 424.45,21.68" fill="#000"/>
<polygon points="440.35,16.17 443.35,17.92 443.35,21.42 440.35,23.17 437.35,21.42 437.35,17.92" fill="#000"/>
<polygon points="453.25,14 456.25,15.75 456.25,19.25 453.25,21 450.25,19.25 450.25,15.75" fill="#000"/>
<polygon points="466.15,17.08 469.15,18.83 469.15,22.33 466.15,24.08 463.15,22.33 463.15,18.83" fill="#000"/>
<polygon points="470.3,13.09 473.3,14.84 473.3,18.34 470.3,20.09 467.3,18.34 467.3,14.84" fill="#000"/>
<line x1="309.7" y1="21.1" x2="331.2" y2="21.1" stroke="#000" stroke-width="0.9" />
<rect x="317.2" y="17.1" width="7" height="8" fill="#000"/>
<text x="333.6" y="24.4" font-size="9.7" text-anchor="start" font-family='"Liberation Serif", serif' font-weight="normal" >Rituximab</text>
<line x1="309.7" y1="32.95" x2="331.2" y2="32.95" stroke="#000" stroke-width="0.9" />
<polygon points="320.7,28.05 324.9,30.5 324.9,35.4 320.7,37.85 316.5,35.4 316.5,30.5" fill="#000"/>
<text x="333.6" y="36.25" font-size="9.7" text-anchor="start" font-family='"Liberation Serif", serif' font-weight="normal" >2F2</text>
<line x1="309.7" y1="44.8" x2="331.2" y2="44.8" stroke="#000" stroke-width="0.9" />
<ellipse cx="320.7" cy="44.8" rx="4.2" ry="4.6" fill="#000"/>
<text x="333.6" y="48.1" font-size="9.7" text-anchor="start" font-family='"Liberation Serif", serif' font-weight="normal" >L93NR</text>
<line x1="309.7" y1="56.65" x2="331.2" y2="56.65" stroke="#000" stroke-width="0.9" />
<polygon points="320.7,51.01 326.2,60.41 315.2,60.41" fill="#000"/>
<text x="333.6" y="59.95" font-size="9.7" text-anchor="start" font-family='"Liberation Serif", serif' font-weight="normal" >L93NK</text>
<line x1="309.7" y1="68.5" x2="331.2" y2="68.5" stroke="#000" stroke-width="0.9" />
<polygon points="320.7,74.14 326.2,64.74 315.2,64.74" fill="#000"/>
<text x="333.6" y="71.8" font-size="9.7" text-anchor="start" font-family='"Liberation Serif", serif' font-weight="normal" >double mutant</text>
<line x1="309.7" y1="80.35" x2="331.2" y2="80.35" stroke="#000" stroke-width="0.9" />
<polygon points="320.7,74.65 326.7,80.35 320.7,86.05 314.7,80.35" fill="#000"/>
<text x="333.6" y="83.65" font-size="9.7" text-anchor="start" font-family='"Liberation Serif", serif' font-weight="normal" >Triple mutant</text>
<line x1="44.9" y1="173.78" x2="44.9" y2="288.1" stroke="#000" stroke-width="1" />
<line x1="44.4" y1="287.6" x2="224" y2="287.6" stroke="#000" stroke-width="1" />
<line x1="42.7" y1="287.6" x2="44.9" y2="287.6" stroke="#000" stroke-width="1" />
<text x="0" y="0" font-size="13" text-anchor="end" font-family='"Liberation Serif", serif' transform="translate(40.8 291.8) scale(1 1.11)">0</text>
<line x1="43.3" y1="278.12" x2="44.9" y2="278.12" stroke="#000" stroke-width="1" />
<line x1="42.7" y1="268.63" x2="44.9" y2="268.63" stroke="#000" stroke-width="1" />
<text x="0" y="0" font-size="13" text-anchor="end" font-family='"Liberation Serif", serif' transform="translate(40.8 272.83) scale(1 1.11)">100</text>
<line x1="43.3" y1="259.15" x2="44.9" y2="259.15" stroke="#000" stroke-width="1" />
<line x1="42.7" y1="249.66" x2="44.9" y2="249.66" stroke="#000" stroke-width="1" />
<text x="0" y="0" font-size="13" text-anchor="end" font-family='"Liberation Serif", serif' transform="translate(40.8 253.86) scale(1 1.11)">200</text>
<line x1="43.3" y1="240.18" x2="44.9" y2="240.18" stroke="#000" stroke-width="1" />
<line x1="42.7" y1="230.69" x2="44.9" y2="230.69" stroke="#000" stroke-width="1" />
<text x="0" y="0" font-size="13" text-anchor="end" font-family='"Liberation Serif", serif' transform="translate(40.8 234.89) scale(1 1.11)">300</text>
<line x1="43.3" y1="221.21" x2="44.9" y2="221.21" stroke="#000" stroke-width="1" />
<line x1="42.7" y1="211.72" x2="44.9" y2="211.72" stroke="#000" stroke-width="1" />
<text x="0" y="0" font-size="13" text-anchor="end" font-family='"Liberation Serif", serif' transform="translate(40.8 215.92) scale(1 1.11)">400</text>
<line x1="43.3" y1="202.24" x2="44.9" y2="202.24" stroke="#000" stroke-width="1" />
<line x1="42.7" y1="192.75" x2="44.9" y2="192.75" stroke="#000" stroke-width="1" />
<text x="0" y="0" font-size="13" text-anchor="end" font-family='"Liberation Serif", serif' transform="translate(40.8 196.95) scale(1 1.11)">500</text>
<line x1="43.3" y1="183.27" x2="44.9" y2="183.27" stroke="#000" stroke-width="1" />
<line x1="42.7" y1="173.78" x2="44.9" y2="173.78" stroke="#000" stroke-width="1" />
<text x="0" y="0" font-size="13" text-anchor="end" font-family='"Liberation Serif", serif' transform="translate(40.8 177.98) scale(1 1.11)">600</text>
<line x1="44.9" y1="287.6" x2="44.9" y2="289.8" stroke="#000" stroke-width="0.8" />
<line x1="53" y1="287.6" x2="53" y2="289" stroke="#000" stroke-width="0.8" />
<line x1="61.1" y1="287.6" x2="61.1" y2="289.8" stroke="#000" stroke-width="0.8" />
<line x1="69.2" y1="287.6" x2="69.2" y2="289" stroke="#000" stroke-width="0.8" />
<line x1="77.3" y1="287.6" x2="77.3" y2="289.8" stroke="#000" stroke-width="0.8" />
<line x1="85.4" y1="287.6" x2="85.4" y2="289" stroke="#000" stroke-width="0.8" />
<line x1="93.5" y1="287.6" x2="93.5" y2="289.8" stroke="#000" stroke-width="0.8" />
<line x1="101.6" y1="287.6" x2="101.6" y2="289" stroke="#000" stroke-width="0.8" />
<line x1="109.7" y1="287.6" x2="109.7" y2="289.8" stroke="#000" stroke-width="0.8" />
<line x1="117.8" y1="287.6" x2="117.8" y2="289" stroke="#000" stroke-width="0.8" />
<line x1="125.9" y1="287.6" x2="125.9" y2="289.8" stroke="#000" stroke-width="0.8" />
<line x1="134" y1="287.6" x2="134" y2="289" stroke="#000" stroke-width="0.8" />
<line x1="142.1" y1="287.6" x2="142.1" y2="289.8" stroke="#000" stroke-width="0.8" />
<line x1="150.2" y1="287.6" x2="150.2" y2="289" stroke="#000" stroke-width="0.8" />
<line x1="158.3" y1="287.6" x2="158.3" y2="289.8" stroke="#000" stroke-width="0.8" />
<line x1="166.4" y1="287.6" x2="166.4" y2="289" stroke="#000" stroke-width="0.8" />
<line x1="174.5" y1="287.6" x2="174.5" y2="289.8" stroke="#000" stroke-width="0.8" />
<line x1="182.6" y1="287.6" x2="182.6" y2="289" stroke="#000" stroke-width="0.8" />
<line x1="190.7" y1="287.6" x2="190.7" y2="289.8" stroke="#000" stroke-width="0.8" />
<line x1="198.8" y1="287.6" x2="198.8" y2="289" stroke="#000" stroke-width="0.8" />
<line x1="206.9" y1="287.6" x2="206.9" y2="289.8" stroke="#000" stroke-width="0.8" />
<line x1="215" y1="287.6" x2="215" y2="289" stroke="#000" stroke-width="0.8" />
<line x1="223.1" y1="287.6" x2="223.1" y2="289.8" stroke="#000" stroke-width="0.8" />
<text x="0" y="0" font-size="13" text-anchor="middle" font-family='"Liberation Serif", serif' transform="translate(44.9 303.2) scale(1 1.11)">0</text>
<text x="0" y="0" font-size="13" text-anchor="middle" font-family='"Liberation Serif", serif' transform="translate(61.1 303.2) scale(1 1.11)">1</text>
<text x="0" y="0" font-size="13" text-anchor="middle" font-family='"Liberation Serif", serif' transform="translate(77.3 303.2) scale(1 1.11)">2</text>
<text x="0" y="0" font-size="13" text-anchor="middle" font-family='"Liberation Serif", serif' transform="translate(93.5 303.2) scale(1 1.11)">3</text>
<text x="0" y="0" font-size="13" text-anchor="middle" font-family='"Liberation Serif", serif' transform="translate(109.7 303.2) scale(1 1.11)">4</text>
<text x="0" y="0" font-size="13" text-anchor="middle" font-family='"Liberation Serif", serif' transform="translate(125.9 303.2) scale(1 1.11)">5</text>
<text x="0" y="0" font-size="13" text-anchor="middle" font-family='"Liberation Serif", serif' transform="translate(142.1 303.2) scale(1 1.11)">6</text>
<text x="0" y="0" font-size="13" text-anchor="middle" font-family='"Liberation Serif", serif' transform="translate(158.3 303.2) scale(1 1.11)">7</text>
<text x="0" y="0" font-size="13" text-anchor="middle" font-family='"Liberation Serif", serif' transform="translate(174.5 303.2) scale(1 1.11)">8</text>
<text x="0" y="0" font-size="13" text-anchor="middle" font-family='"Liberation Serif", serif' transform="translate(190.7 303.2) scale(1 1.11)">9</text>
<text x="0" y="0" font-size="13" text-anchor="middle" font-family='"Liberation Serif", serif' transform="translate(206.9 303.2) scale(1 1.11)">10</text>
<text x="0" y="0" font-size="13" text-anchor="middle" font-family='"Liberation Serif", serif' transform="translate(223.1 303.2) scale(1 1.11)">11</text>
<text x="133.5" y="322.6" font-size="13" text-anchor="middle" font-family='"Liberation Serif", serif' font-weight="normal" letter-spacing="0.3">mAb (&#956;g/mL)</text>
<text x="9.7" y="218.4" font-size="9.7" text-anchor="middle" font-family='"Liberation Serif", serif' font-weight="normal" transform="rotate(-90 9.7 218.4)" dominant-baseline="central">MFI</text>
<text x="-0.5" y="172.9" font-size="15" text-anchor="start" font-family='"Liberation Sans", sans-serif' font-weight="bold" >C</text>
<line x1="48.28" y1="286.37" x2="73.92" y2="277.07" stroke="#000" stroke-width="0.9" />
<line x1="80.87" y1="275.36" x2="106.13" y2="271.96" stroke="#000" stroke-width="0.9" />
<line x1="113.29" y1="271.15" x2="170.91" y2="265.92" stroke="#000" stroke-width="0.9" />
<line x1="178.03" y1="264.89" x2="203.37" y2="259.85" stroke="#000" stroke-width="0.9" />
<line x1="48.3" y1="286.41" x2="73.9" y2="277.41" stroke="#000" stroke-width="0.9" />
<line x1="80.87" y1="275.74" x2="106.13" y2="272.34" stroke="#000" stroke-width="0.9" />
<line x1="113.29" y1="271.54" x2="170.91" y2="266.48" stroke="#000" stroke-width="0.9" />
<line x1="178.03" y1="265.46" x2="203.37" y2="260.42" stroke="#000" stroke-width="0.9" />
<line x1="48.31" y1="286.44" x2="73.89" y2="277.75" stroke="#000" stroke-width="0.9" />
<line x1="80.86" y1="276.1" x2="106.14" y2="272.55" stroke="#000" stroke-width="0.9" />
<line x1="113.28" y1="271.7" x2="170.92" y2="266.13" stroke="#000" stroke-width="0.9" />
<line x1="178.02" y1="265.02" x2="203.38" y2="259.53" stroke="#000" stroke-width="0.9" />
<line x1="48.27" y1="286.34" x2="73.93" y2="276.72" stroke="#000" stroke-width="0.9" />
<line x1="80.87" y1="275" x2="106.13" y2="271.75" stroke="#000" stroke-width="0.9" />
<line x1="113.28" y1="270.95" x2="170.92" y2="265.55" stroke="#000" stroke-width="0.9" />
<line x1="178.04" y1="264.57" x2="203.36" y2="259.98" stroke="#000" stroke-width="0.9" />
<line x1="48.29" y1="286.39" x2="73.91" y2="277.24" stroke="#000" stroke-width="0.9" />
<line x1="80.87" y1="275.55" x2="106.13" y2="272.15" stroke="#000" stroke-width="0.9" />
<line x1="113.29" y1="271.35" x2="170.91" y2="266.29" stroke="#000" stroke-width="0.9" />
<line x1="178.03" y1="265.27" x2="203.37" y2="260.23" stroke="#000" stroke-width="0.9" />
<line x1="47.11" y1="284.76" x2="75.09" y2="248.71" stroke="#000" stroke-width="0.9" />
<line x1="80.71" y1="244.73" x2="106.29" y2="236.19" stroke="#000" stroke-width="0.9" />
<line x1="113.3" y1="234.99" x2="170.9" y2="233.98" stroke="#000" stroke-width="0.9" />
<line x1="178.1" y1="233.83" x2="203.3" y2="233.24" stroke="#000" stroke-width="0.9" />
<clipPath id="cclip"><rect x="45" y="150" width="190" height="137.6"/></clipPath><g clip-path="url(#cclip)">
<rect x="42.4" y="284.7" width="5" height="5.8" fill="#000"/>
<rect x="74.8" y="272.94" width="5" height="5.8" fill="#000"/>
<rect x="107.2" y="268.58" width="5" height="5.8" fill="#000"/>
<rect x="172" y="262.69" width="5" height="5.8" fill="#000"/>
<rect x="204.4" y="256.25" width="5" height="5.8" fill="#000"/>
<ellipse cx="44.9" cy="287.6" rx="3" ry="3.3" fill="#000"/>
<ellipse cx="77.3" cy="276.22" rx="3" ry="3.3" fill="#000"/>
<ellipse cx="109.7" cy="271.85" rx="3" ry="3.3" fill="#000"/>
<ellipse cx="174.5" cy="266.16" rx="3" ry="3.3" fill="#000"/>
<ellipse cx="206.9" cy="259.71" rx="3" ry="3.3" fill="#000"/>
<polygon points="44.9,283.64 48.4,290.24 41.4,290.24" fill="#000"/>
<polygon points="77.3,272.64 80.8,279.24 73.8,279.24" fill="#000"/>
<polygon points="109.7,268.08 113.2,274.68 106.2,274.68" fill="#000"/>
<polygon points="174.5,261.82 178,268.42 171,268.42" fill="#000"/>
<polygon points="206.9,254.81 210.4,261.41 203.4,261.41" fill="#000"/>
<polygon points="44.9,291.56 48.4,284.96 41.4,284.96" fill="#000"/>
<polygon points="77.3,279.42 80.8,272.82 73.8,272.82" fill="#000"/>
<polygon points="109.7,275.25 113.2,268.65 106.2,268.65" fill="#000"/>
<polygon points="174.5,269.18 178,262.58 171,262.58" fill="#000"/>
<polygon points="206.9,263.29 210.4,256.69 203.4,256.69" fill="#000"/>
<polygon points="44.9,283.7 48.5,287.6 44.9,291.5 41.3,287.6" fill="#000"/>
<polygon points="77.3,272.13 80.9,276.03 77.3,279.93 73.7,276.03" fill="#000"/>
<polygon points="109.7,267.77 113.3,271.67 109.7,275.57 106.1,271.67" fill="#000"/>
<polygon points="174.5,262.07 178.1,265.97 174.5,269.87 170.9,265.97" fill="#000"/>
<polygon points="206.9,255.62 210.5,259.52 206.9,263.42 203.3,259.52" fill="#000"/>
<polygon points="44.9,284.1 47.9,285.85 47.9,289.35 44.9,291.1 41.9,289.35 41.9,285.85" fill="#000"/>
<polygon points="77.3,242.37 80.3,244.12 80.3,247.62 77.3,249.37 74.3,247.62 74.3,244.12" fill="#000"/>
<polygon points="109.7,231.55 112.7,233.3 112.7,236.8 109.7,238.55 106.7,236.8 106.7,233.3" fill="#000"/>
<polygon points="174.5,230.41 177.5,232.16 177.5,235.66 174.5,237.41 171.5,235.66 171.5,232.16" fill="#000"/>
<polygon points="206.9,229.66 209.9,231.41 209.9,234.91 206.9,236.66 203.9,234.91 203.9,231.41" fill="#000"/>
</g>
<line x1="54.5" y1="166.1" x2="76" y2="166.1" stroke="#000" stroke-width="0.9" />
<rect x="61.7" y="162.1" width="7" height="8" fill="#000"/>
<text x="77.9" y="169.4" font-size="9.7" text-anchor="start" font-family='"Liberation Serif", serif' font-weight="normal" >rituximab</text>
<line x1="54.5" y1="177.6" x2="76" y2="177.6" stroke="#000" stroke-width="0.9" />
<polygon points="65.2,172.7 69.4,175.15 69.4,180.05 65.2,182.5 61,180.05 61,175.15" fill="#000"/>
<text x="77.9" y="180.9" font-size="9.7" text-anchor="start" font-family='"Liberation Serif", serif' font-weight="normal" >2F2</text>
<line x1="54.5" y1="189.1" x2="76" y2="189.1" stroke="#000" stroke-width="0.9" />
<ellipse cx="65.2" cy="189.1" rx="4.2" ry="4.6" fill="#000"/>
<text x="77.9" y="192.4" font-size="9.7" text-anchor="start" font-family='"Liberation Serif", serif' font-weight="normal" >L93NR</text>
<line x1="54.5" y1="200.6" x2="76" y2="200.6" stroke="#000" stroke-width="0.9" />
<polygon points="65.2,194.96 70.7,204.36 59.7,204.36" fill="#000"/>
<text x="77.9" y="203.9" font-size="9.7" text-anchor="start" font-family='"Liberation Serif", serif' font-weight="normal" >L93NK</text>
<line x1="54.5" y1="212.1" x2="76" y2="212.1" stroke="#000" stroke-width="0.9" />
<polygon points="65.2,217.74 70.7,208.34 59.7,208.34" fill="#000"/>
<text x="77.9" y="215.4" font-size="9.7" text-anchor="start" font-family='"Liberation Serif", serif' font-weight="normal" >double mutant</text>
<line x1="54.5" y1="223.6" x2="76" y2="223.6" stroke="#000" stroke-width="0.9" />
<polygon points="65.2,217.9 71.2,223.6 65.2,229.3 59.2,223.6" fill="#000"/>
<text x="77.9" y="226.9" font-size="9.7" text-anchor="start" font-family='"Liberation Serif", serif' font-weight="normal" >triple mutant</text>
<line x1="299" y1="173.58" x2="299" y2="288.2" stroke="#000" stroke-width="1" />
<line x1="298.5" y1="287.7" x2="478.2" y2="287.7" stroke="#000" stroke-width="1" />
<line x1="296.8" y1="287.7" x2="299" y2="287.7" stroke="#000" stroke-width="1" />
<text x="0" y="0" font-size="13" text-anchor="end" font-family='"Liberation Serif", serif' transform="translate(294.9 291.9) scale(1 1.11)">0</text>
<line x1="297.4" y1="278.19" x2="299" y2="278.19" stroke="#000" stroke-width="1" />
<line x1="296.8" y1="268.68" x2="299" y2="268.68" stroke="#000" stroke-width="1" />
<text x="0" y="0" font-size="13" text-anchor="end" font-family='"Liberation Serif", serif' transform="translate(294.9 272.88) scale(1 1.11)">100</text>
<line x1="297.4" y1="259.17" x2="299" y2="259.17" stroke="#000" stroke-width="1" />
<line x1="296.8" y1="249.66" x2="299" y2="249.66" stroke="#000" stroke-width="1" />
<text x="0" y="0" font-size="13" text-anchor="end" font-family='"Liberation Serif", serif' transform="translate(294.9 253.86) scale(1 1.11)">200</text>
<line x1="297.4" y1="240.15" x2="299" y2="240.15" stroke="#000" stroke-width="1" />
<line x1="296.8" y1="230.64" x2="299" y2="230.64" stroke="#000" stroke-width="1" />
<text x="0" y="0" font-size="13" text-anchor="end" font-family='"Liberation Serif", serif' transform="translate(294.9 234.84) scale(1 1.11)">300</text>
<line x1="297.4" y1="221.13" x2="299" y2="221.13" stroke="#000" stroke-width="1" />
<line x1="296.8" y1="211.62" x2="299" y2="211.62" stroke="#000" stroke-width="1" />
<text x="0" y="0" font-size="13" text-anchor="end" font-family='"Liberation Serif", serif' transform="translate(294.9 215.82) scale(1 1.11)">400</text>
<line x1="297.4" y1="202.11" x2="299" y2="202.11" stroke="#000" stroke-width="1" />
<line x1="296.8" y1="192.6" x2="299" y2="192.6" stroke="#000" stroke-width="1" />
<text x="0" y="0" font-size="13" text-anchor="end" font-family='"Liberation Serif", serif' transform="translate(294.9 196.8) scale(1 1.11)">500</text>
<line x1="297.4" y1="183.09" x2="299" y2="183.09" stroke="#000" stroke-width="1" />
<line x1="296.8" y1="173.58" x2="299" y2="173.58" stroke="#000" stroke-width="1" />
<text x="0" y="0" font-size="13" text-anchor="end" font-family='"Liberation Serif", serif' transform="translate(294.9 177.78) scale(1 1.11)">600</text>
<line x1="299" y1="287.7" x2="299" y2="289.9" stroke="#000" stroke-width="0.8" />
<line x1="311.81" y1="287.7" x2="311.81" y2="289.3" stroke="#000" stroke-width="0.8" />
<line x1="324.62" y1="287.7" x2="324.62" y2="289.9" stroke="#000" stroke-width="0.8" />
<line x1="337.43" y1="287.7" x2="337.43" y2="289.3" stroke="#000" stroke-width="0.8" />
<line x1="350.24" y1="287.7" x2="350.24" y2="289.9" stroke="#000" stroke-width="0.8" />
<line x1="363.05" y1="287.7" x2="363.05" y2="289.3" stroke="#000" stroke-width="0.8" />
<line x1="375.86" y1="287.7" x2="375.86" y2="289.9" stroke="#000" stroke-width="0.8" />
<line x1="388.67" y1="287.7" x2="388.67" y2="289.3" stroke="#000" stroke-width="0.8" />
<line x1="401.48" y1="287.7" x2="401.48" y2="289.9" stroke="#000" stroke-width="0.8" />
<line x1="414.29" y1="287.7" x2="414.29" y2="289.3" stroke="#000" stroke-width="0.8" />
<line x1="427.1" y1="287.7" x2="427.1" y2="289.9" stroke="#000" stroke-width="0.8" />
<line x1="439.91" y1="287.7" x2="439.91" y2="289.3" stroke="#000" stroke-width="0.8" />
<line x1="452.72" y1="287.7" x2="452.72" y2="289.9" stroke="#000" stroke-width="0.8" />
<line x1="465.53" y1="287.7" x2="465.53" y2="289.3" stroke="#000" stroke-width="0.8" />
<line x1="478.34" y1="287.7" x2="478.34" y2="289.9" stroke="#000" stroke-width="0.8" />
<rect x="314.4" y="203.2" width="6.2" height="84.5" fill="#000" stroke="#000" stroke-width="0.7"/>
<line x1="317.5" y1="203.2" x2="317.5" y2="196.5" stroke="#333" stroke-width="0.8" />
<line x1="316.5" y1="196.5" x2="318.5" y2="196.5" stroke="#333" stroke-width="0.8" />
<rect x="321.3" y="244.4" width="6.2" height="43.3" fill="#fff" stroke="#aaa" stroke-width="0.7"/>
<line x1="321.3" y1="244.4" x2="327.5" y2="244.4" stroke="#555" stroke-width="0.8" />
<line x1="324.4" y1="244.4" x2="324.4" y2="239.4" stroke="#333" stroke-width="0.8" />
<line x1="323.4" y1="239.4" x2="325.4" y2="239.4" stroke="#333" stroke-width="0.8" />
<rect x="328.2" y="207.9" width="6.2" height="79.8" fill="#c4c4c4" stroke="#808080" stroke-width="0.7"/>
<line x1="331.3" y1="207.9" x2="331.3" y2="202.4" stroke="#333" stroke-width="0.8" />
<line x1="330.3" y1="202.4" x2="332.3" y2="202.4" stroke="#333" stroke-width="0.8" />
<rect x="340.02" y="185.9" width="6.2" height="101.8" fill="#000" stroke="#000" stroke-width="0.7"/>
<line x1="343.12" y1="185.9" x2="343.12" y2="180.8" stroke="#333" stroke-width="0.8" />
<line x1="342.12" y1="180.8" x2="344.12" y2="180.8" stroke="#333" stroke-width="0.8" />
<rect x="346.92" y="217.4" width="6.2" height="70.3" fill="#fff" stroke="#aaa" stroke-width="0.7"/>
<line x1="346.92" y1="217.4" x2="353.12" y2="217.4" stroke="#555" stroke-width="0.8" />
<line x1="350.02" y1="217.4" x2="350.02" y2="211.9" stroke="#333" stroke-width="0.8" />
<line x1="349.02" y1="211.9" x2="351.02" y2="211.9" stroke="#333" stroke-width="0.8" />
<rect x="353.82" y="189.1" width="6.2" height="98.6" fill="#c4c4c4" stroke="#808080" stroke-width="0.7"/>
<line x1="356.92" y1="189.1" x2="356.92" y2="185.2" stroke="#333" stroke-width="0.8" />
<line x1="355.92" y1="185.2" x2="357.92" y2="185.2" stroke="#333" stroke-width="0.8" />
<rect x="365.64" y="200.5" width="6.2" height="87.2" fill="#000" stroke="#000" stroke-width="0.7"/>
<line x1="368.74" y1="200.5" x2="368.74" y2="192.2" stroke="#333" stroke-width="0.8" />
<line x1="367.74" y1="192.2" x2="369.74" y2="192.2" stroke="#333" stroke-width="0.8" />
<rect x="372.54" y="246.2" width="6.2" height="41.5" fill="#fff" stroke="#aaa" stroke-width="0.7"/>
<line x1="372.54" y1="246.2" x2="378.74" y2="246.2" stroke="#555" stroke-width="0.8" />
<line x1="375.64" y1="246.2" x2="375.64" y2="241.5" stroke="#333" stroke-width="0.8" />
<line x1="374.64" y1="241.5" x2="376.64" y2="241.5" stroke="#333" stroke-width="0.8" />
<rect x="379.44" y="202.7" width="6.2" height="85" fill="#c4c4c4" stroke="#808080" stroke-width="0.7"/>
<line x1="382.54" y1="202.7" x2="382.54" y2="197.3" stroke="#333" stroke-width="0.8" />
<line x1="381.54" y1="197.3" x2="383.54" y2="197.3" stroke="#333" stroke-width="0.8" />
<rect x="391.26" y="184.9" width="6.2" height="102.8" fill="#000" stroke="#000" stroke-width="0.7"/>
<line x1="394.36" y1="184.9" x2="394.36" y2="179.2" stroke="#333" stroke-width="0.8" />
<line x1="393.36" y1="179.2" x2="395.36" y2="179.2" stroke="#333" stroke-width="0.8" />
<rect x="398.16" y="242.2" width="6.2" height="45.5" fill="#fff" stroke="#aaa" stroke-width="0.7"/>
<line x1="398.16" y1="242.2" x2="404.36" y2="242.2" stroke="#555" stroke-width="0.8" />
<line x1="401.26" y1="242.2" x2="401.26" y2="236.8" stroke="#333" stroke-width="0.8" />
<line x1="400.26" y1="236.8" x2="402.26" y2="236.8" stroke="#333" stroke-width="0.8" />
<rect x="405.06" y="187.4" width="6.2" height="100.3" fill="#c4c4c4" stroke="#808080" stroke-width="0.7"/>
<line x1="408.16" y1="187.4" x2="408.16" y2="184.3" stroke="#333" stroke-width="0.8" />
<line x1="407.16" y1="184.3" x2="409.16" y2="184.3" stroke="#333" stroke-width="0.8" />
<rect x="416.88" y="183.1" width="6.2" height="104.6" fill="#000" stroke="#000" stroke-width="0.7"/>
<line x1="419.98" y1="183.1" x2="419.98" y2="178.5" stroke="#333" stroke-width="0.8" />
<line x1="418.98" y1="178.5" x2="420.98" y2="178.5" stroke="#333" stroke-width="0.8" />
<rect x="423.78" y="246" width="6.2" height="41.7" fill="#fff" stroke="#aaa" stroke-width="0.7"/>
<line x1="423.78" y1="246" x2="429.98" y2="246" stroke="#555" stroke-width="0.8" />
<line x1="426.88" y1="246" x2="426.88" y2="241.3" stroke="#333" stroke-width="0.8" />
<line x1="425.88" y1="241.3" x2="427.88" y2="241.3" stroke="#333" stroke-width="0.8" />
<rect x="430.68" y="186.7" width="6.2" height="101" fill="#c4c4c4" stroke="#808080" stroke-width="0.7"/>
<line x1="433.78" y1="186.7" x2="433.78" y2="182.4" stroke="#333" stroke-width="0.8" />
<line x1="432.78" y1="182.4" x2="434.78" y2="182.4" stroke="#333" stroke-width="0.8" />
<rect x="442.5" y="229.4" width="6.2" height="58.3" fill="#000" stroke="#000" stroke-width="0.7"/>
<line x1="445.6" y1="229.4" x2="445.6" y2="224.2" stroke="#333" stroke-width="0.8" />
<line x1="444.6" y1="224.2" x2="446.6" y2="224.2" stroke="#333" stroke-width="0.8" />
<rect x="449.4" y="281.4" width="6.2" height="6.3" fill="#fff" stroke="#aaa" stroke-width="0.7"/>
<line x1="449.4" y1="281.4" x2="455.6" y2="281.4" stroke="#555" stroke-width="0.8" />
<line x1="452.5" y1="281.4" x2="452.5" y2="279.7" stroke="#333" stroke-width="0.8" />
<line x1="451.5" y1="279.7" x2="453.5" y2="279.7" stroke="#333" stroke-width="0.8" />
<rect x="456.3" y="268.4" width="6.2" height="19.3" fill="#c4c4c4" stroke="#808080" stroke-width="0.7"/>
<line x1="459.4" y1="268.4" x2="459.4" y2="265.3" stroke="#333" stroke-width="0.8" />
<line x1="458.4" y1="265.3" x2="460.4" y2="265.3" stroke="#333" stroke-width="0.8" />
<text x="320.9" y="297" font-size="10.3" text-anchor="start" font-family='"Liberation Serif", serif' font-weight="normal" transform="rotate(45 320.9 297)">rituximab</text>
<text x="346.52" y="297" font-size="10.3" text-anchor="start" font-family='"Liberation Serif", serif' font-weight="normal" transform="rotate(45 346.52 297)">2F2</text>
<text x="372.14" y="297" font-size="10.3" text-anchor="start" font-family='"Liberation Serif", serif' font-weight="normal" transform="rotate(45 372.14 297)">L93NR</text>
<text x="397.76" y="297" font-size="10.3" text-anchor="start" font-family='"Liberation Serif", serif' font-weight="normal" transform="rotate(45 397.76 297)">double mutant</text>
<text x="423.38" y="297" font-size="10.3" text-anchor="start" font-family='"Liberation Serif", serif' font-weight="normal" transform="rotate(45 423.38 297)">triple mutant</text>
<text x="449" y="297" font-size="10.3" text-anchor="start" font-family='"Liberation Serif", serif' font-weight="normal" transform="rotate(45 449 297)">11B8</text>
<text x="263.2" y="219" font-size="9.7" text-anchor="middle" font-family='"Liberation Serif", serif' font-weight="normal" transform="rotate(-90 263.2 219)" dominant-baseline="central">MFI</text>
<text x="246.5" y="172.2" font-size="15" text-anchor="start" font-family='"Liberation Sans", sans-serif' font-weight="bold" >D</text>
<rect x="440.9" y="172.6" width="20.7" height="7.2" fill="#000" stroke="#000" stroke-width="0.8"/>
<text x="464.4" y="179.1" font-size="9.7" text-anchor="start" font-family='"Liberation Serif", serif' font-weight="normal" >not lysed</text>
<rect x="440.9" y="184.35" width="20.7" height="7.2" fill="#fff" stroke="#999" stroke-width="0.8"/>
<text x="464.4" y="190.85" font-size="9.7" text-anchor="start" font-family='"Liberation Serif", serif' font-weight="normal" >lysed</text>
<rect x="440.9" y="196.1" width="20.7" height="7.2" fill="#c4c4c4" stroke="#888" stroke-width="0.8"/>
<text x="464.4" y="202.6" font-size="9.7" text-anchor="start" font-family='"Liberation Serif", serif' font-weight="normal" >x-linked lysed</text>
</svg>
</body></html>
